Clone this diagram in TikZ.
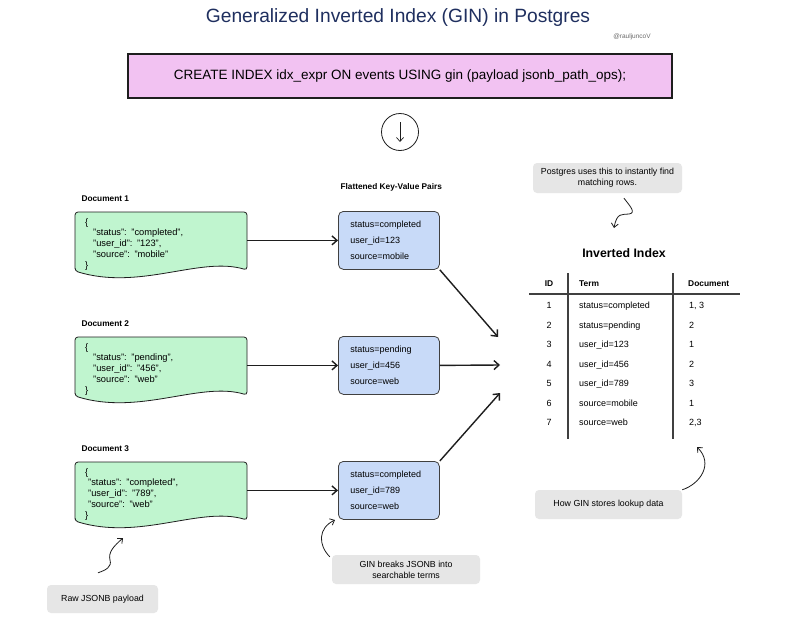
\documentclass[tikz,border=0pt]{standalone}
\usepackage{fontspec}
\setmainfont{Liberation Sans}
\usepackage{tikz}
\usetikzlibrary{arrows.meta,calc}
\definecolor{ink}{HTML}{1E1E1E}
\definecolor{navy}{HTML}{1F2F5F}
\definecolor{sqlpink}{HTML}{F2C2F2}
\definecolor{docgreen}{HTML}{C0F5CF}
\definecolor{kvblue}{HTML}{C8DAF8}
\definecolor{notegray}{HTML}{E6E6E6}
\definecolor{muted}{HTML}{6A6A6A}
\tikzset{
  sqlbox/.style={draw=ink, fill=sqlpink, line width=1.2pt, minimum width=544pt,
                 minimum height=44pt, inner sep=0pt, font=\fontsize{13.5}{16}\selectfont},
  docbox/.style={minimum width=172pt, minimum height=64pt, inner xsep=10pt, inner ysep=0pt,
                 text width=152pt, align=left, anchor=north west,
                 font=\fontsize{9.3}{10.7}\selectfont},
  docshape/.style={draw=ink, fill=docgreen, line width=0.8pt, rounded corners=3pt},
  kvbox/.style={draw=ink!85, fill=kvblue, line width=0.8pt, rounded corners=5pt,
                minimum width=101pt, minimum height=58pt, inner xsep=12pt,
                text width=77pt, align=left, anchor=north west,
                font=\fontsize{9}{16}\selectfont},
  note/.style={fill=notegray, rounded corners=4pt, align=center, inner sep=0pt,
               font=\fontsize{8.8}{11}\selectfont},
  heading/.style={font=\bfseries\fontsize{8.3}{10}\selectfont, anchor=west},
  cell/.style={font=\fontsize{9}{11}\selectfont, text height=7pt, text depth=2pt, inner sep=0pt},
  cellhead/.style={cell, font=\bfseries\fontsize{8.4}{10}\selectfont},
  arrow/.style={-{Straight Barb[length=5pt,width=9pt]}, line width=1.4pt, draw=ink},
  curl/.style={-{Straight Barb[length=4pt,width=7pt]}, line width=0.8pt, draw=ink},
  rule/.style={draw=ink!85, line width=1.1pt}
}
\begin{document}
\begin{tikzpicture}[x=1pt, y=-1pt]
  \fill[white] (0,0) rectangle (800,621);
  \useasboundingbox (0,0) rectangle (800,621);

  \node[font=\fontsize{19.2}{22}\selectfont, text=navy] (title) at (398,18)
    {Generalized Inverted Index (GIN) in Postgres};
  \node[font=\fontsize{6.5}{8}\selectfont, text=muted] (handle) at (632,37) {@rauljuncoV};

  \node[sqlbox] (sql) at (400,76)
    {CREATE INDEX idx\_expr ON events USING gin (payload jsonb\_path\_ops);};
  \node[draw=ink, circle, line width=0.8pt, minimum size=37pt] (step) at (400,132) {};
  \draw[curl, line width=0.7pt] ($(step.center)+(0,-10)$) -- ($(step.center)+(0,10)$);

  % documents and their flattened pairs
  \node[heading] (kvhead) at (337,187) {Flattened Key-Value Pairs};
  \foreach \k/\y/\st/\uid/\src/\ind in {1/212/completed/123/mobile/8,
                                      2/337/pending/456/web/8,
                                      3/462/completed/789/web/3} {
    \filldraw[docshape] (75,\y+59) -- (75,\y) -- (247,\y) -- (247,\y+58)
      .. controls (200,\y+44) and (140,\y+79) .. (75,\y+59) -- cycle;
    \node[heading] (head\k) at (78,\y-13) {Document \k};
    \node[docbox] (doc\k) at (75,\y)
      {\{\\\hspace*{\ind pt}"status": "\st",\\\hspace*{\ind pt}"user\_id": "\uid",\\
       \hspace*{\ind pt}"source": "\src"\\\}};
    \node[kvbox] (kv\k) at (338,\y-1) {status=\st\\user\_id=\uid\\source=\src};
    \draw[arrow] (kv\k.west -| doc\k.east) -- (kv\k.west);
  }

  \coordinate (in1) at (498,337);
  \coordinate (in2) at (500,365);
  \coordinate (in3) at (500,393);
  \draw[arrow] (kv1.south east) -- (in1);
  \draw[arrow] (kv2.east) -- (in2);
  \draw[arrow] (kv3.north east) -- (in3);

  % index table
  \node[font=\bfseries\fontsize{12.3}{14}\selectfont] (idxtitle) at (624,253) {Inverted Index};
  \node[cellhead] (hid) at (549,284) {ID};
  \node[cellhead, anchor=west] (hterm) at (579,284) {Term};
  \node[cellhead, anchor=west] (hdoc) at (688,284) {Document};
  \draw[rule] (529,294) -- (740,294);
  \draw[rule] (568,273) -- (568,439);
  \draw[rule] (673,273) -- (673,439);
  \foreach \i/\term/\docs in {1/status=completed/{1, 3}, 2/status=pending/2,
                              3/user\_id=123/1, 4/user\_id=456/2, 5/user\_id=789/3,
                              6/source=mobile/1, 7/source=web/{2,3}} {
    \node[cell] (id\i) at (549,286.5+19.5*\i) {\i};
    \node[cell, anchor=west] (term\i) at (579,286.5+19.5*\i) {\term};
    \node[cell, anchor=west] (docs\i) at (689,286.5+19.5*\i) {\docs};
  }

  % notes
  \node[note, minimum width=149pt, minimum height=30pt] (notefind) at (607.5,178)
    {Postgres uses this to instantly find\\matching rows.};
  \node[note, minimum width=147pt, minimum height=29pt] (notestore) at (608.5,504.5)
    {How GIN stores lookup data};
  \node[note, minimum width=111pt, minimum height=28pt] (noteraw) at (102.5,599)
    {Raw JSONB payload};
  \node[note, minimum width=148pt, minimum height=29pt] (notebreak) at (406,569.5)
    {GIN breaks JSONB into\\searchable terms};

  \coordinate (tipfind) at (614,228);
  \coordinate (tipstore) at (697,447);
  \coordinate (tipraw) at (123,538);
  \coordinate (tipbreak) at (335,520);
  \draw[curl] ($(notefind.south)+(16.5,5)$) .. controls (629,205) and (637,213) .. (629,214)
    .. controls (622,215) and (617,212) .. (tipfind);
  \draw[curl] (notestore.north east) .. controls (700,484) and (714,464) .. (tipstore);
  \draw[curl] ($(noteraw.north)+(-4.5,-12)$) .. controls (106,570) and (112,567) .. (110,560)
    .. controls (108,552) and (114,546) .. (tipraw);
  \draw[curl] ($(notebreak.north west)+(-2,2)$) .. controls (318,545) and (318,528) .. (tipbreak);
\end{tikzpicture}
\end{document}
